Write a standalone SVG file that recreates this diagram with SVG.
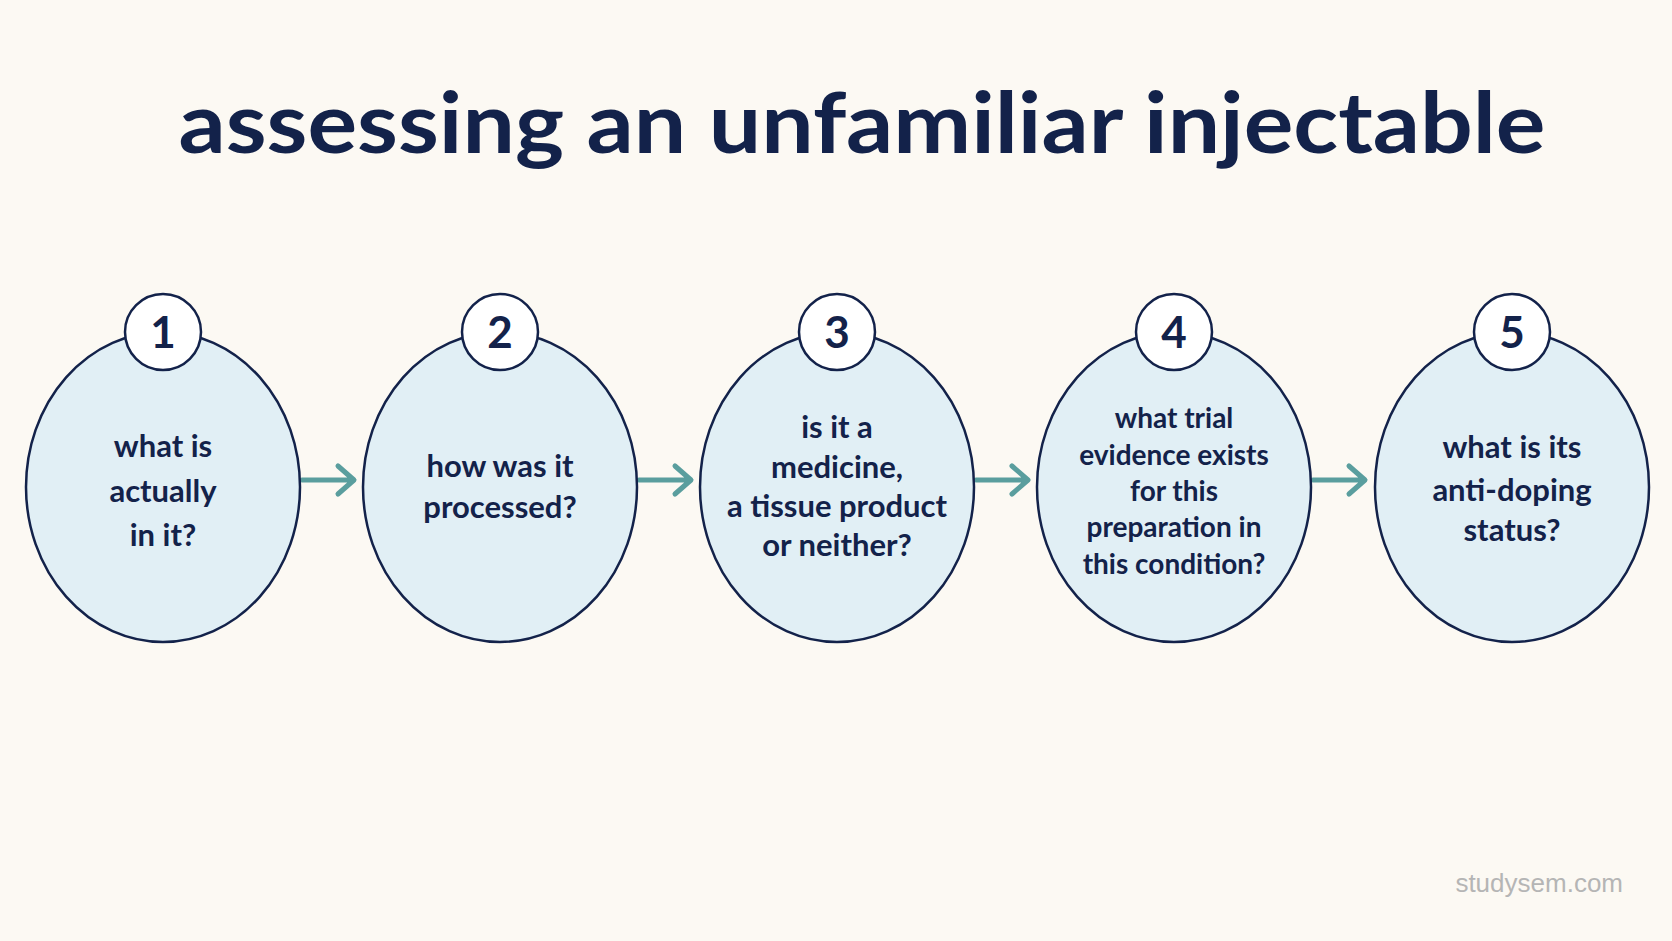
<svg xmlns="http://www.w3.org/2000/svg" width="1672" height="941" viewBox="0 0 1672 941">
<style>
.e{fill:#e1eff5;stroke:#13224a;stroke-width:2.5}
.c{fill:#ffffff;stroke:#13224a;stroke-width:2.5}
.n{font-family:Lato,"Open Sans",sans-serif;font-weight:700;font-size:44px;fill:#13224a;text-anchor:middle}
.t{font-family:Lato,"Open Sans",sans-serif;font-weight:700;font-size:31px;fill:#13224a;text-anchor:middle}
.t4{font-size:28px}
.a{stroke:#5a9e9e;stroke-width:5;fill:none;stroke-linecap:round;stroke-linejoin:round}
</style>
<rect width="1672" height="941" fill="#fcf9f3"/>
<text x="862" y="153" font-family="Lato,'Open Sans',sans-serif" font-weight="700" font-size="84" fill="#13224a" text-anchor="middle" textLength="1367" lengthAdjust="spacingAndGlyphs">assessing an unfamiliar injectable</text>
<g id="connectors">
<path class="a" d="M302 480H352M338 466L354 480L338 494"/>
<path class="a" d="M639 480H689M675 466L691 480L675 494"/>
<path class="a" d="M976 480H1026M1012 466L1028 480L1012 494"/>
<path class="a" d="M1313 480H1363M1349 466L1365 480L1349 494"/>
</g>
<g id="node1"><ellipse class="e" cx="163" cy="487" rx="137" ry="155"/><circle class="c" cx="163" cy="332" r="38"/><text class="n" x="163" y="348">1</text>
<text class="t" x="163" y="457">what is</text><text class="t" x="163" y="502">actually</text><text class="t" x="163" y="546">in it?</text></g>
<g id="node2"><ellipse class="e" cx="500" cy="487" rx="137" ry="155"/><circle class="c" cx="500" cy="332" r="38"/><text class="n" x="500" y="348">2</text>
<text class="t" x="500" y="477">how was it</text><text class="t" x="500" y="518">processed?</text></g>
<g id="node3"><ellipse class="e" cx="837" cy="487" rx="137" ry="155"/><circle class="c" cx="837" cy="332" r="38"/><text class="n" x="837" y="348">3</text>
<text class="t" x="837" y="438">is it a</text><text class="t" x="837" y="478">medicine,</text><text class="t" x="837" y="517">a tissue product</text><text class="t" x="837" y="556">or neither?</text></g>
<g id="node4"><ellipse class="e" cx="1174" cy="487" rx="137" ry="155"/><circle class="c" cx="1174" cy="332" r="38"/><text class="n" x="1174" y="348">4</text>
<text class="t t4" x="1174" y="428">what trial</text><text class="t t4" x="1174" y="465">evidence exists</text><text class="t t4" x="1174" y="501">for this</text><text class="t t4" x="1174" y="537">preparation in</text><text class="t t4" x="1174" y="574">this condition?</text></g>
<g id="node5"><ellipse class="e" cx="1512" cy="487" rx="137" ry="155"/><circle class="c" cx="1512" cy="332" r="38"/><text class="n" x="1512" y="348">5</text>
<text class="t" x="1512" y="458">what is its</text><text class="t" x="1512" y="501">anti-doping</text><text class="t" x="1512" y="541">status?</text></g>
<text x="1623" y="892" font-family="'Liberation Sans',sans-serif" font-size="26" fill="#b5b5b5" text-anchor="end">studysem.com</text>
</svg>
